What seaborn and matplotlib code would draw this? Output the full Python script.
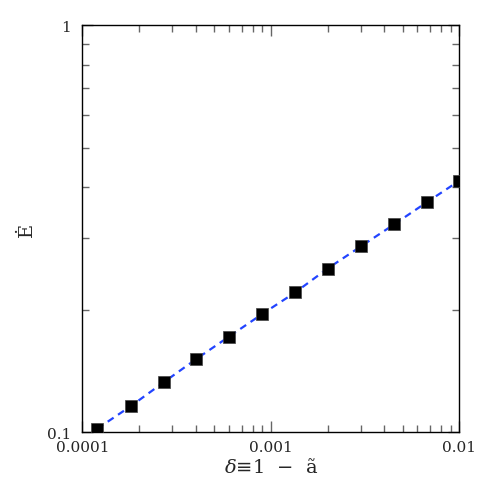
import numpy as np
import pandas as pd
import matplotlib
matplotlib.use('Agg')
import matplotlib.pyplot as plt
from matplotlib.ticker import FixedLocator, FixedFormatter, LogLocator, NullFormatter
import seaborn as sns

# data (log-log)
delta = [1.2e-4, 1.8e-4, 2.7e-4, 4.0e-4, 6.0e-4, 9.0e-4,
         1.35e-3, 2.0e-3, 3.0e-3, 4.5e-3, 6.7e-3, 1.0e-2]
edot = [0.102, 0.1157, 0.1326, 0.151, 0.1717, 0.1951,
        0.2206, 0.2523, 0.2859, 0.3238, 0.3668, 0.4147]

x_ticks = [1e-4, 1e-3, 1e-2]
x_labels = ['0.0001', '0.001', '0.01']
y_ticks = [0.1, 1]
y_labels = ['0.1', '1']

df = pd.DataFrame({'delta': delta, 'edot': edot})

sns.set_theme(style='ticks')
plt.rcParams['font.family'] = ['DejaVu Serif', 'DejaVu Sans']
plt.rcParams['mathtext.fontset'] = 'dejavuserif'

fig, ax = plt.subplots(figsize=(4.85, 4.85), dpi=100)
fig.subplots_adjust(left=0.17, right=0.947, top=0.946, bottom=0.107)

sns.lineplot(data=df, x='delta', y='edot', ax=ax, color='#2244ff',
             linewidth=1.6, dashes=False, zorder=2)
ax.lines[0].set_dashes((3.2, 2.4))
sns.scatterplot(data=df, x='delta', y='edot', ax=ax, marker='s', s=85,
                color='black', edgecolor='#444444', linewidth=0.5, zorder=3)

ax.set_xscale('log')
ax.set_yscale('log')
ax.set_xlim(1e-4, 1e-2)
ax.set_ylim(0.1, 1)

ax.xaxis.set_major_locator(FixedLocator(x_ticks))
ax.xaxis.set_major_formatter(FixedFormatter(x_labels))
ax.yaxis.set_major_locator(FixedLocator(y_ticks))
ax.yaxis.set_major_formatter(FixedFormatter(y_labels))
ax.xaxis.set_minor_locator(LogLocator(base=10, subs=np.arange(2, 10)))
ax.yaxis.set_minor_locator(LogLocator(base=10, subs=np.arange(2, 10)))
ax.xaxis.set_minor_formatter(NullFormatter())
ax.yaxis.set_minor_formatter(NullFormatter())

ax.tick_params(which='both', direction='in', top=True, right=True,
               color='#666666', labelsize=11)
ax.tick_params(axis='x', pad=6)
ax.tick_params(axis='y', pad=8)
ax.tick_params(which='major', length=8, width=1)
ax.tick_params(which='minor', length=5, width=1)
for s in ax.spines.values():
    s.set_linewidth(1.0)
    s.set_color('black')

ax.set_xlabel('$\\delta$\u2261$1$  \u2212  \u00e3', fontsize=14, labelpad=2)
ax.set_ylabel('\u0116', fontsize=14, labelpad=8)

fig.savefig('out.png', dpi=100)
